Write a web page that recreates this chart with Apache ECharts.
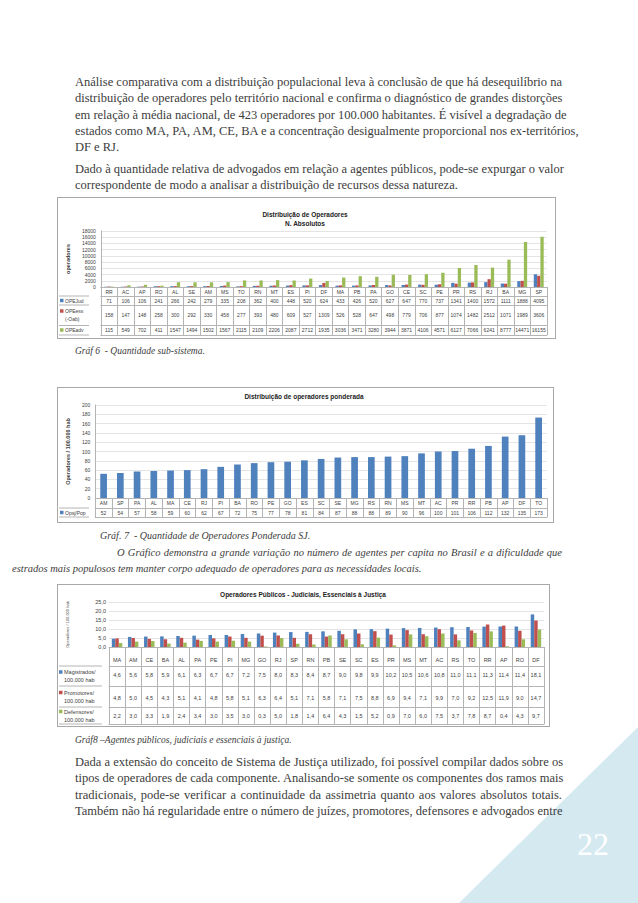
<!DOCTYPE html>
<html><head><meta charset="utf-8">
<script src="https://cdn.jsdelivr.net/npm/echarts@6/dist/echarts.min.js"></script>
<style>
html,body{margin:0;padding:0;background:#fff;}
body{width:638px;height:903px;position:relative;overflow:hidden;font-family:"Liberation Serif",serif;color:#3c3c3c;}
.ln{position:absolute;left:75px;width:487px;font-size:12.5px;line-height:14px;white-space:nowrap;text-align:justify;text-align-last:justify;}
.ln.last{text-align-last:left;}
.cap{position:absolute;font-style:italic;font-size:9.5px;line-height:12px;white-space:nowrap;}
.chart{position:absolute;}
.box{position:absolute;border:1px solid #a8a8a8;box-sizing:border-box;pointer-events:none;}
#tri{position:absolute;left:459px;top:727px;width:179px;height:176px;}
#pg{position:absolute;left:558px;top:826px;width:70px;text-align:center;color:#fff;font-size:32px;line-height:36px;}
</style>
</head><body>
<svg id="tri" width="179" height="176" viewBox="0 0 179 176"><polygon points="0,176 179,0 179,176" fill="#d5e9f1"/></svg>
<div id="pg">22</div>

<div class="ln" style="top:75px">Análise comparativa com a distribuição populacional leva à conclusão de que há desequilíbrio na</div>
<div class="ln" style="top:91.3px">distribuição de operadores pelo território nacional e confirma o diagnóstico de grandes distorções</div>
<div class="ln" style="top:107.6px">em relação à média nacional, de 423 operadores por 100.000 habitantes. É visível a degradação de</div>
<div class="ln" style="top:123.9px">estados como MA, PA, AM, CE, BA e a concentração desigualmente proporcional nos ex-territórios,</div>
<div class="ln last" style="top:140.2px">DF e RJ.</div>
<div class="ln" style="top:162px">Dado à quantidade relativa de advogados em relação a agentes públicos, pode-se expurgar o valor</div>
<div class="ln last" style="top:178.3px">correspondente de modo a analisar a distribuição de recursos dessa natureza.</div>

<div id="c1" class="chart" style="left:57px;top:197px;width:499px;height:142px"></div>
<div class="box" style="left:57px;top:197px;width:499px;height:142px"></div>
<div class="cap" style="left:75px;top:345px">Gráf 6 &nbsp;- Quantidade sub-sistema.</div>

<div id="c2" class="chart" style="left:57px;top:387px;width:497px;height:136px"></div>
<div class="box" style="left:57px;top:387px;width:497px;height:136px"></div>
<div class="cap" style="left:100px;top:530px;font-size:10px">Gráf. 7 &nbsp;- Quantidade de Operadores Ponderada SJ.</div>
<div class="cap" style="left:117px;top:547px;width:445px;font-size:10.5px;text-align:justify;text-align-last:justify">O Gráfico demonstra a grande variação no número de agentes per capita no Brasil e a dificuldade que</div>
<div class="cap" style="left:12px;top:563px;font-size:10.5px">estrados mais populosos tem manter corpo adequado de operadores para as necessidades locais.</div>

<div id="c3" class="chart" style="left:57px;top:584px;width:493px;height:143px"></div>
<div class="box" style="left:57px;top:584px;width:493px;height:143px"></div>
<div class="cap" style="left:75px;top:734px">Gráf8 –Agentes públicos, judiciais e essenciais à justiça.</div>

<div class="ln" style="top:755px">Dada a extensão do conceito de Sistema de Justiça utilizado, foi possível compilar dados sobre os</div>
<div class="ln" style="top:771.3px">tipos de operadores de cada componente. Analisando-se somente os componentes dos ramos mais</div>
<div class="ln" style="top:787.6px">tradicionais, pode-se verificar a continuidade da assimetria quanto aos valores absolutos totais.</div>
<div class="ln" style="top:803.9px">Também não há regularidade entre o número de juízes, promotores, defensores e advogados entre</div>

<script>
// ---------- DATA ----------
// Chart 1: Distribuição de Operadores - N. Absolutos
const cats1 = ['RR','AC','AP','RO','AL','SE','AM','MS','TO','RN','MT','ES','PI','DF','MA','PB','PA','GO','CE','SC','PE','PR','RS','RJ','BA','MG','SP'];
const opeJud = [71,106,106,241,266,242,279,335,208,362,400,448,520,624,433,426,520,627,647,770,737,1341,1400,1572,1111,1888,4095];
const opeEss = [158,147,148,258,300,292,330,458,277,393,480,609,527,1309,526,528,647,498,779,706,877,1074,1482,2512,1071,1989,3606];
const opeAdv = [115,549,702,411,1547,1494,1502,1567,2115,2109,2206,2087,2712,1935,3036,3471,3280,3944,3871,4106,4571,6127,7066,6241,8777,14471,16155];
const names1 = ['OPEJud','OPEess\n(-Oab)','OPEadv'];
const yTicks1 = {min:0, max:18000, interval:2000};

// Chart 2: Distribuição de operadores ponderada
const cats2 = ['AM','SP','PA','AL','MA','CE','RJ','PI','BA','RO','PE','GO','ES','SC','SE','MG','RS','RN','MS','MT','AC','PR','RR','PB','AP','DF','TO'];
const opPop = [52,54,57,58,59,60,62,67,72,75,77,78,81,84,87,88,88,89,90,96,100,101,106,112,132,135,173];
const names2 = ['Opsj/Pop'];
const yTicks2 = {min:0, max:200, interval:20};

// Chart 3: Operadores Públicos - Judiciais, Essenciais à Justiça
const cats3 = ['MA','AM','CE','BA','AL','PA','PE','PI','MG','GO','RJ','SP','RN','PB','SE','SC','ES','PR','MS','MT','AC','RS','TO','RR','AP','RO','DF'];
const magist = [4.6,5.6,5.8,5.9,6.1,6.3,6.7,6.7,7.2,7.5,8.0,8.3,8.4,8.7,9.0,9.8,9.9,10.2,10.5,10.6,10.8,11.0,11.1,11.3,11.4,11.4,18.1];
const promot = [4.8,5.0,4.5,4.3,5.1,4.1,4.8,5.8,5.1,6.3,6.4,5.1,7.1,5.8,7.1,7.5,8.8,6.9,9.4,7.1,9.9,7.0,9.2,12.5,11.9,9.0,14.7];
const defens = [2.2,3.0,3.3,1.9,2.4,3.4,3.0,3.5,3.0,0.3,5.0,1.8,1.4,6.4,4.3,1.5,5.2,0.9,7.0,6.0,7.5,3.7,7.8,8.7,0.4,4.3,9.7];
const names3 = ['Magistrados/\n100.000 hab','Promotores/\n100.000 hab','Defensores/\n100.000 hab'];
const yTicks3 = {min:0, max:25, interval:5};

// ---------- STYLE ----------
const F = 'Liberation Sans';
const LC = '#b4b4b4';
const TC = '#404040';
const GC = '#e4e4e4';
const COLS = ['#4f81bd','#c0504d','#9bbb59'];
const R = {renderer:'svg'};

function mkX(cats, offset, tickLen, labels, margin, fs){
  return {type:'category', data:cats, position:'bottom', offset:offset, boundaryGap:true,
    axisLine:{show:true, onZero:false, lineStyle:{color:LC, width:1}},
    axisTick:{show:tickLen>0, length:tickLen, interval:0, lineStyle:{color:LC}},
    axisLabel:{show:!!labels, interval:0, margin:margin, fontSize:fs, color:TC, fontFamily:F,
      formatter: labels ? function(v,i){return labels[i];} : '{value}'},
    splitLine:{show:false}};
}
function legendCell(x, yCenter, color, text, fs, lh){
  const lines = text.split('\n');
  const y0 = yCenter - (lines.length-1)*lh/2;
  const els = [{type:'rect', shape:{x:x, y:y0 - 1.75, width:3.5, height:3.5}, style:{fill:color}}];
  lines.forEach(function(t,k){
    els.push({type:'text', x:x+5, y:y0 + k*lh,
      style:{text:t, fontSize:fs, fontFamily:F, fill:TC, verticalAlign:'middle'}});
  });
  return els;
}
function hline(x1,x2,y){return {type:'line', shape:{x1:x1,y1:y,x2:x2,y2:y}, style:{stroke:LC, lineWidth:1}};}
const fmt1 = a => a.map(v => String(v));
const fmtC = a => a.map(v => v.toFixed(1).replace('.',','));

// ---------- CHART 1 ----------
(function(){
  const ch = echarts.init(document.getElementById('c1'), null, R);
  const gl = 32, axisY = 90;
  const gfx = [hline(2,gl,99), hline(2,gl,108), hline(2,gl,128.5), hline(2,gl,138)]
    .concat(legendCell(3,103.5,COLS[0],names1[0],5,8))
    .concat(legendCell(3,118,COLS[1],names1[1],5,8))
    .concat(legendCell(3,133,COLS[2],names1[2],5,8));
  ch.setOption({
    animation:false,
    title:{text:'Distribuição de Operadores\nN. Absolutos', left:243, top:8, textAlign:'center',
      textStyle:{fontSize:6.5, fontWeight:'bold', fontFamily:F, color:'#222', lineHeight:9}},
    grid:{left:gl, right:9, top:34, bottom:142-axisY},
    xAxis:[
      mkX(cats1, 0, 9, cats1, 2, 5),
      mkX(cats1, 9, 9, fmt1(opeJud), 2, 5),
      mkX(cats1, 18, 20.5, fmt1(opeEss), 7.7, 5),
      mkX(cats1, 38.5, 9.5, fmt1(opeAdv), 2.2, 5),
      mkX(cats1, 48, 0, null, 0, 5)
    ],
    yAxis:{type:'value', min:yTicks1.min, max:yTicks1.max, interval:yTicks1.interval,
      name:'operadores', nameLocation:'middle', nameRotate:90, nameGap:24,
      nameTextStyle:{fontSize:5.5, fontWeight:'bold', fontFamily:F, color:TC},
      axisLine:{show:true, lineStyle:{color:LC}}, axisTick:{show:false},
      axisLabel:{fontSize:5, margin:5, color:TC, fontFamily:F, formatter:v=>String(v)},
      splitLine:{lineStyle:{color:GC}}},
    series:[
      {type:'bar', name:names1[0], data:opeJud, itemStyle:{color:COLS[0]}, barGap:'0%', barCategoryGap:'40%'},
      {type:'bar', name:names1[1], data:opeEss, itemStyle:{color:COLS[1]}, barGap:'0%', barCategoryGap:'40%'},
      {type:'bar', name:names1[2], data:opeAdv, itemStyle:{color:COLS[2]}, barGap:'0%', barCategoryGap:'40%'}
    ],
    graphic:gfx
  });
})();

// ---------- CHART 2 ----------
(function(){
  const ch = echarts.init(document.getElementById('c2'), null, R);
  const gl = 32, axisY = 111;
  const gfx = [hline(2,gl,121), hline(2,gl,130)].concat(legendCell(3,125.5,COLS[0],names2[0],5,8));
  ch.setOption({
    animation:false,
    title:{text:'Distribuição de operadores ponderada', left:242, top:1, textAlign:'center',
      textStyle:{fontSize:6.5, fontWeight:'bold', fontFamily:F, color:'#222'}},
    grid:{left:gl, right:7, top:18, bottom:136-axisY},
    xAxis:[
      mkX(cats2, 0, 10, cats2, 2.5, 5),
      mkX(cats2, 10, 9, fmt1(opPop), 2.2, 5),
      mkX(cats2, 19, 0, null, 0, 5)
    ],
    yAxis:{type:'value', min:yTicks2.min, max:yTicks2.max, interval:yTicks2.interval,
      name:'Operadores / 100.000 hab', nameLocation:'middle', nameRotate:90, nameGap:24,
      nameTextStyle:{fontSize:5.5, fontWeight:'bold', fontFamily:F, color:TC},
      axisLine:{show:true, lineStyle:{color:LC}}, axisTick:{show:false},
      axisLabel:{fontSize:5, margin:5, color:TC, fontFamily:F},
      splitLine:{lineStyle:{color:GC}}},
    series:[{type:'bar', name:names2[0], data:opPop, itemStyle:{color:COLS[0]}, barCategoryGap:'60%'}],
    graphic:gfx
  });
})();

// ---------- CHART 3 ----------
(function(){
  const ch = echarts.init(document.getElementById('c3'), null, R);
  const gl = 45, axisY = 63;
  const gfx = [hline(2,gl,82), hline(2,gl,102), hline(2,gl,123), hline(2,gl,140)]
    .concat(legendCell(2,92,COLS[0],names3[0],5.5,8))
    .concat(legendCell(2,112.5,COLS[1],names3[1],5.5,8))
    .concat(legendCell(2,131.5,COLS[2],names3[2],5.5,8));
  ch.setOption({
    animation:false,
    title:{text:'Operadores Públicos - Judiciais, Essenciais à Justiça', left:241, top:2, textAlign:'center',
      textStyle:{fontSize:6.5, fontWeight:'bold', fontFamily:F, color:'#222'}},
    grid:{left:gl, right:6, top:18, bottom:143-axisY},
    xAxis:[
      mkX(cats3, 0, 19, cats3, 10, 5.5),
      mkX(cats3, 19, 20, fmtC(magist), 5.5, 5.5),
      mkX(cats3, 39, 21, fmtC(promot), 9, 5.5),
      mkX(cats3, 60, 17, fmtC(defens), 6, 5.5),
      mkX(cats3, 77, 0, null, 0, 5.5)
    ],
    yAxis:{type:'value', min:yTicks3.min, max:yTicks3.max, interval:yTicks3.interval,
      name:'Operadores / 100.000 hab', nameLocation:'middle', nameRotate:90, nameGap:40,
      nameTextStyle:{fontSize:4, fontFamily:F, color:TC},
      axisLine:{show:false}, axisTick:{show:false},
      axisLabel:{fontSize:5.5, margin:3, color:TC, fontFamily:F, formatter:v=>v.toFixed(1).replace('.',',')},
      splitLine:{lineStyle:{color:GC}}},
    series:[
      {type:'bar', name:names3[0], data:magist, itemStyle:{color:COLS[0]}, barGap:'0%', barCategoryGap:'35%'},
      {type:'bar', name:names3[1], data:promot, itemStyle:{color:COLS[1]}, barGap:'0%', barCategoryGap:'35%'},
      {type:'bar', name:names3[2], data:defens, itemStyle:{color:COLS[2]}, barGap:'0%', barCategoryGap:'35%'}
    ],
    graphic:gfx
  });
})();
</script>
</body></html>
